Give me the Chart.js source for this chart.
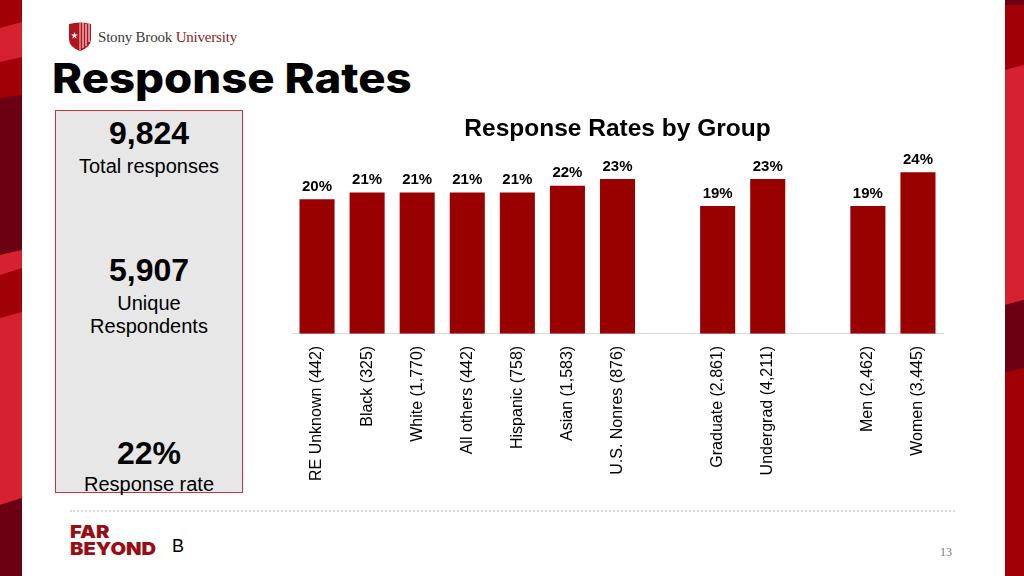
<!DOCTYPE html>
<html>
<head>
<meta charset="utf-8">
<script src="https://cdn.jsdelivr.net/npm/chart.js@4/dist/chart.umd.min.js"></script>
<style>
  html, body { margin:0; padding:0; }
  body { width:1024px; height:576px; position:relative; overflow:hidden; background:#fff; font-family:"Liberation Sans", Arial, sans-serif; }
  #logoText { position:absolute; left:98px; top:29px; font-family:"Liberation Serif", "DejaVu Serif", serif; font-size:15px; color:#3a3a3a; letter-spacing:-0.2px; white-space:nowrap; }
  #logoText span { color:#8c1d22; }
  #mainTitle { position:absolute; left:52px; top:53px; line-height:50px; font-family:Inter, "Open Sans", sans-serif; font-weight:800; font-size:41px; color:#000; white-space:nowrap; transform:scaleX(1.11); transform-origin:left center; }
  #panel { position:absolute; left:55px; top:110px; width:186px; height:381px; background:#e7e7e7; border:1px solid #c7363c; }
  .big { position:absolute; left:0; width:186px; text-align:center; font-weight:bold; font-size:32px; line-height:36px; color:#000; }
  .small { position:absolute; left:0; width:186px; text-align:center; font-size:20px; color:#000; line-height:23px; }
  #chartWrap { position:absolute; left:290px; top:110px; width:670px; height:392px; }
  #dots { position:absolute; left:70px; top:510px; width:885px; height:0; border-top:2px dotted #dadada; }
  #far { position:absolute; left:70px; top:523px; font-family:Inter, "Open Sans", sans-serif; font-weight:900; font-size:18px; line-height:17px; color:#9b0d14; transform:scaleX(1.12); transform-origin:left top; }
  #fb { position:absolute; left:172px; top:536px; font-size:18px; color:#000; }
  #pg { position:absolute; left:940px; top:545px; font-family:"Liberation Serif",serif; font-size:12px; color:#777; }
</style>
</head>
<body>
<svg style="position:absolute;left:0;top:0;" width="22" height="576" viewBox="0 0 22 576">
  <rect x="0" y="0" width="22" height="576" fill="#a00006"/>
  <polygon points="0,28 22,22 22,57 0,62" fill="#d62230"/>
  <polygon points="0,98 22,95 22,250 0,255" fill="#6b0012"/>
  <polygon points="0,255 22,250 22,268 0,275" fill="#d62230"/>
  <polygon points="0,318 22,312 22,498 0,505" fill="#d62230"/>
  <polygon points="0,505 22,498 22,576 0,576" fill="#6b0012"/>
</svg>
<svg style="position:absolute;left:1005px;top:0;" width="19" height="576" viewBox="0 0 19 576">
  <rect x="0" y="0" width="19" height="576" fill="#a00006"/>
  <rect x="0" y="0" width="19" height="5" fill="#6b0012"/>
  <polygon points="0,70 19,65 19,300 0,305" fill="#d62230"/>
  <polygon points="0,305 19,300 19,368 0,372" fill="#6b0012"/>
</svg>

<svg style="position:absolute;left:68px;top:22px;" width="24" height="30" viewBox="0 0 24 30">
  <path d="M1 2 Q12 -1 23 2 L23 17 Q23 25 12 29 Q1 25 1 17 Z" fill="#b0141c"/>
  <path d="M12 1 L12 28" stroke="#fff" stroke-width="0.8"/>
  <path d="M15 1 L15 26 M18 2 L18 24 M21 2 L21 20" stroke="#fff" stroke-width="1"/>
  <polygon points="6.5,10 7.4,12.6 10,12.6 7.9,14.1 8.7,16.7 6.5,15.1 4.3,16.7 5.1,14.1 3,12.6 5.6,12.6" fill="#fff"/>
</svg>
<div id="logoText">Stony Brook <span>University</span></div>
<div id="mainTitle">Response Rates</div>

<div id="panel">
  <div class="big" style="top:4px;">9,824</div>
  <div class="small" style="top:44px;">Total responses</div>
  <div class="big" style="top:141px;">5,907</div>
  <div class="small" style="top:181px;">Unique<br>Respondents</div>
  <div class="big" style="top:324px;">22%</div>
  <div class="small" style="top:362px;">Response rate</div>
</div>

<div id="chartWrap"><canvas id="c"></canvas></div>

<div id="dots"></div>
<div id="far">FAR<br>BEYOND</div>
<div id="fb">B</div>
<div id="pg">13</div>

<script>
const categories = ['RE Unknown (442)', 'Black (325)', 'White (1,770)', 'All others (442)', 'Hispanic (758)', 'Asian (1,583)', 'U.S. Nonres (876)', '', 'Graduate (2,861)', 'Undergrad (4,211)', '', 'Men (2,462)', 'Women (3,445)'];
const rates = [20, 21, 21, 21, 21, 22, 23, null, 19, 23, null, 19, 24];
const chartTitle = 'Response Rates by Group';

const valueLabels = {
  id: 'valueLabels',
  afterDatasetsDraw(chart) {
    const ctx = chart.ctx;
    const meta = chart.getDatasetMeta(0);
    ctx.save();
    ctx.font = 'bold 15px "Liberation Sans", Arial, sans-serif';
    ctx.fillStyle = '#000';
    ctx.textAlign = 'center';
    ctx.textBaseline = 'bottom';
    meta.data.forEach((bar, i) => {
      const v = chart.data.datasets[0].data[i];
      if (v === null || v === undefined) return;
      ctx.fillText(v + '%', bar.x, bar.y - 5);
    });
    ctx.restore();
  }
};

new Chart(document.getElementById('c'), {
  type: 'bar',
  data: {
    labels: categories,
    datasets: [{
      data: rates,
      backgroundColor: '#990000',
      borderWidth: 0,
      barPercentage: 0.7,
      categoryPercentage: 1.0
    }]
  },
  options: {
    responsive: true,
    maintainAspectRatio: false,
    animation: false,
    layout: { padding: { left: 2, right: 17, top: 0, bottom: 9 } },
    plugins: {
      legend: { display: false },
      tooltip: { enabled: false },
      title: {
        display: true,
        text: chartTitle,
        fullSize: false,
        color: '#000',
        font: { family: '"Liberation Sans", Arial, sans-serif', size: 24.5, weight: 'bold' },
        padding: { top: 4.5, bottom: 8.2 }
      }
    },
    scales: {
      x: {
        grid: { display: false, drawTicks: false },
        border: { display: true, color: '#d9d9d9', width: 1 },
        ticks: {
          color: '#000',
          font: { family: '"Liberation Sans", Arial, sans-serif', size: 16 },
          minRotation: 90, maxRotation: 90,
          autoSkip: false,
          padding: 12
        }
      },
      y: {
        display: false,
        min: 0,
        max: 27
      }
    }
  },
  plugins: [valueLabels]
});
</script>
</body>
</html>
